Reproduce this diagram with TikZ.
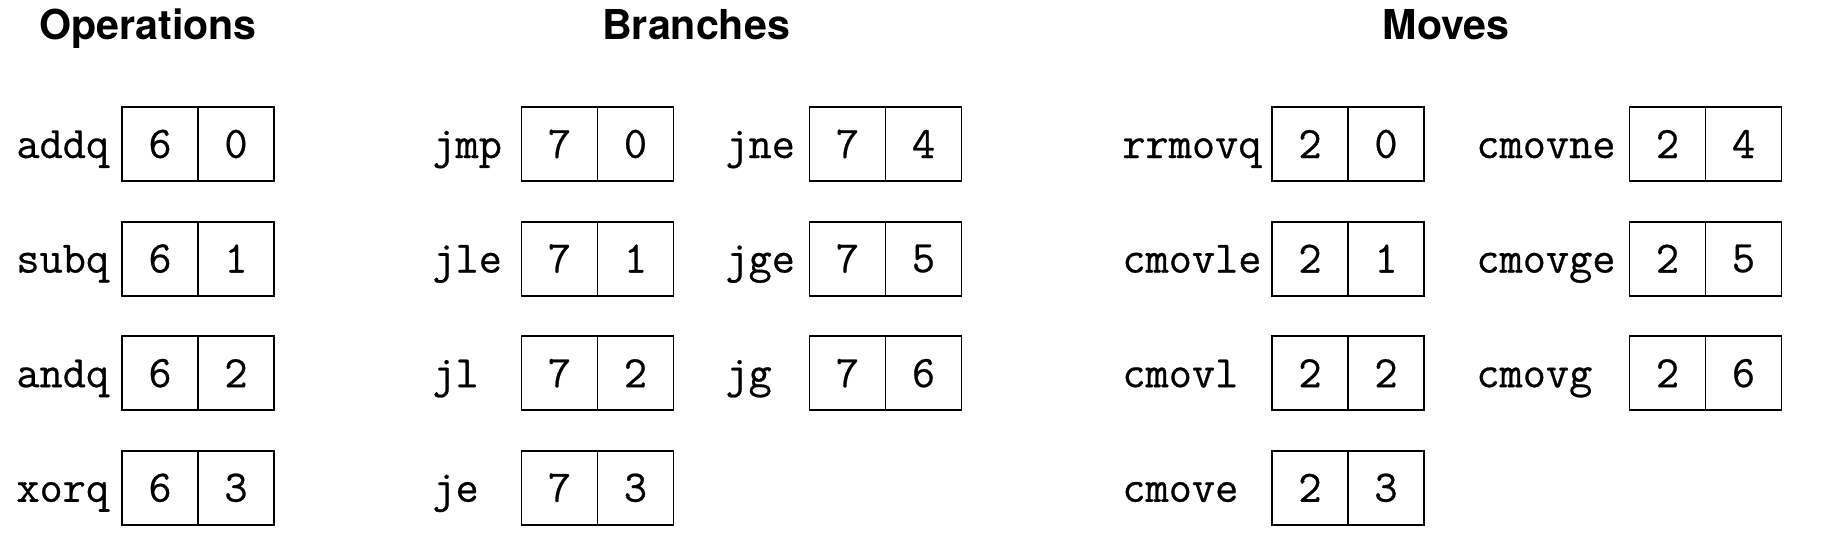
\documentclass[tikz,border=0pt]{standalone}
\usepackage{fontspec}
\newfontfamily\headfont{TeX Gyre Heros}
\newfontfamily\codefont{Latin Modern Mono}[FakeBold=0.6]
\usetikzlibrary{positioning}

\begin{document}
\begin{tikzpicture}[x=0.5pt,y=-0.5pt,
    heading/.style={font=\headfont\bfseries\fontsize{20.6}{24}\selectfont, anchor=base},
    instr/.style={font=\codefont\fontsize{22.5}{27}\selectfont, anchor=base west, inner sep=0pt},
    cell/.style={draw, line width=0.9pt, minimum width=38pt, minimum height=37pt,
                 inner sep=0pt, outer sep=0pt, font=\codefont\fontsize{22.5}{27}\selectfont}]
    \useasboundingbox (0,0) rectangle (1821,540);

    \node[heading] (ops) at (148,40) {Operations};
    \node[heading] (branches) at (696,40) {Branches};
    \node[heading] (moves) at (1446,40) {Moves};

    % operations
    \foreach \op/\fn [count=\i] in {addq/0,subq/1,andq/2,xorq/3} {
        \pgfmathsetmacro{\yc}{144+114.6*(\i-1)}
        \node[instr] (\op) at (16,\yc+14) {\op};
        \node[cell] (\op-code) at (160,\yc) {6};
        \node[cell, right=0pt of \op-code] (\op-fn) {\fn};
    }

    % branches
    \foreach \op/\fn [count=\i] in {jmp/0,jle/1,jl/2,je/3} {
        \pgfmathsetmacro{\yc}{144+114.6*(\i-1)}
        \node[instr] (\op) at (432,\yc+14) {\op};
        \node[cell] (\op-code) at (559.5,\yc) {7};
        \node[cell, right=0pt of \op-code] (\op-fn) {\fn};
    }
    \foreach \op/\fn [count=\i] in {jne/4,jge/5,jg/6} {
        \pgfmathsetmacro{\yc}{144+114.6*(\i-1)}
        \node[instr] (\op) at (725,\yc+14) {\op};
        \node[cell] (\op-code) at (847.5,\yc) {7};
        \node[cell, right=0pt of \op-code] (\op-fn) {\fn};
    }

    % moves
    \foreach \op/\fn [count=\i] in {rrmovq/0,cmovle/1,cmovl/2,cmove/3} {
        \pgfmathsetmacro{\yc}{144+114.6*(\i-1)}
        \node[instr] (\op) at (1122,\yc+14) {\op};
        \node[cell] (\op-code) at (1310,\yc) {2};
        \node[cell, right=0pt of \op-code] (\op-fn) {\fn};
    }
    \foreach \op/\fn [count=\i] in {cmovne/4,cmovge/5,cmovg/6} {
        \pgfmathsetmacro{\yc}{144+114.6*(\i-1)}
        \node[instr] (\op) at (1476,\yc+14) {\op};
        \node[cell] (\op-code) at (1667.5,\yc) {2};
        \node[cell, right=0pt of \op-code] (\op-fn) {\fn};
    }
\end{tikzpicture}
\end{document}
